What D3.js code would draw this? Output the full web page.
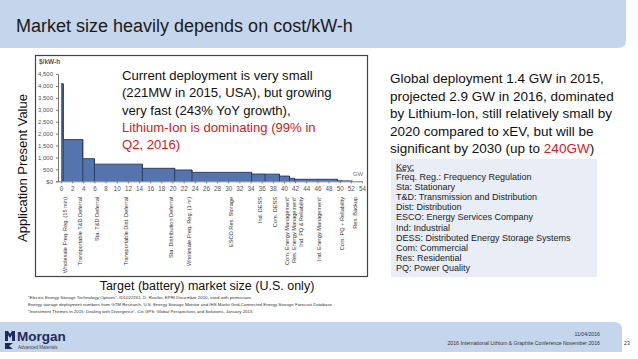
<!DOCTYPE html>
<html><head><meta charset="utf-8">
<script src="https://cdn.jsdelivr.net/npm/d3@7"></script>
<style>
html,body{margin:0;padding:0;background:#fff;}
svg{display:block;font-family:"Liberation Sans",Arial,Helvetica,sans-serif;}
</style></head>
<body>
<svg id="c" width="638" height="359"></svg>
<script>
// ---- data ----
const segEnds = [0.4, 3.9, 6.0, 14.6, 20.4, 23.5, 34.2, 36.6, 39.2, 41.0, 41.9, 49.6, 50.4];
const segValues = [4090, 1750, 950, 720, 545, 475, 375, 305, 300, 220, 125, 85, 25];
const yTicks = [0, 500, 1000, 1500, 2000, 2500, 3000, 3500, 4000, 4500];
const yTickLabels = ["$0", "500", "1,000", "1,500", "2,000", "2,500", "3,000", "3,500", "4,000", "4,500"];
const xTicks = d3.range(0, 55, 2);
const appNames = ["Wholesale Freq. Reg. (15 min)", "Transportable T&D Deferral", "Sta. T&D Deferral",
  "Transportable Dist. Deferral", "Sta. Distribution Deferral", "Wholesale Freq. Reg. (1 hr)",
  "ESCO Res. Storage", "Ind. DESS", "Com. DESS", "Com. Energy Management'", "Res. Energy Management'",
  "Ind. PQ & Reliability", "Ind. Energy Management'", "Com. PQ + Reliability", "Res. Backup"];
const appPositions = [0.7, 3.4, 6.5, 11.7, 19.7, 23.0, 30.5, 35.7, 38.4, 40.5, 41.8, 43.0, 46.2, 50.4, 52.7];
const leftText = ["Current deployment is very small", "(221MW in 2015, USA), but growing",
  "very fast (243% YoY growth),", "Lithium-Ion is dominating (99% in", "Q2, 2016)"];
const leftTextRed = [false, false, false, true, true];
const keyLines = ["Freq. Reg.: Frequency Regulation", "Sta: Stationary", "T&D: Transmission and Distribution",
  "Dist: Distribution", "ESCO: Energy Services Company", "Ind: Industrial",
  "DESS: Distributed Energy Storage Systems", "Com: Commercial", "Res: Residential", "PQ: Power Quality"];
const footnotes = ["\u201CElectric Energy Storage Technology Options\u201D, ID1022261, D. Rastler, EPRI December 2010, used with permission",
  "Energy storage deployment numbers from GTM Research, U.S. Energy Storage Monitor and IHS Markit Grid-Connected Energy Storage Forecast Database",
  "\u201CInvestment Themes in 2015: Dealing with Divergence\u201D, Citi GPS: Global Perspectives and Solutions, January 2015"];

const svg = d3.select("#c");
const band = "#c5d5eb";

// title band
svg.append("path").attr("d", "M0,0 H626 V40 Q626,48 618,48 H0 Z").attr("fill", band);
svg.append("text").attr("x", 16).attr("y", 32).attr("font-size", 18).attr("fill", "#1a1a1a")
  .text("Market size heavily depends on cost/kW-h");

// chart box
svg.append("rect").attr("x", 35.5).attr("y", 55.5).attr("width", 332).attr("height", 221)
  .attr("fill", "#fff").attr("stroke", "#444").attr("stroke-width", 1.2);

const x = d3.scaleLinear().domain([0, 54]).range([61, 362]);
const y = d3.scaleLinear().domain([0, 4500]).range([181.3, 74]);

// step area
const pts = [];
let prev = 0;
segEnds.forEach((e, i) => { pts.push([prev, segValues[i]]); pts.push([e, segValues[i]]); prev = e; });
pts.push([prev, 0]);
const area = d3.area().x(d => x(d[0])).y0(y(0)).y1(d => y(d[1]));
svg.append("path").datum(pts).attr("d", area).attr("fill", "#5574ad");
const line = d3.line().x(d => x(d[0])).y(d => y(d[1]));
svg.append("path").datum(pts).attr("d", line).attr("fill", "none").attr("stroke", "#26375e").attr("stroke-width", 0.9);
// dividers
svg.append("g").selectAll("line").data(segEnds.slice(0, -1)).join("line")
  .attr("x1", d => x(d)).attr("x2", d => x(d))
  .attr("y1", y(0)).attr("y2", (d, i) => y(segValues[i]))
  .attr("stroke", "#26375e").attr("stroke-width", 0.9);
// near-zero tail
svg.append("line").attr("x1", x(segEnds[segEnds.length - 1])).attr("x2", x(52.3))
  .attr("y1", y(0) - 0.5).attr("y2", y(0) - 0.5).attr("stroke", "#26375e").attr("stroke-width", 0.8);

// axes
const yAxis = d3.axisLeft(y).tickValues(yTicks).tickFormat((d, i) => yTickLabels[i]).tickSize(2).tickPadding(3);
const gy = svg.append("g").attr("transform", "translate(58,0)").call(yAxis);
gy.selectAll("text").attr("font-size", 6).attr("fill", "#555").attr("font-family", "Liberation Sans, Arial, sans-serif");
gy.selectAll("line, path").attr("stroke", "#777");

const xAxis = d3.axisBottom(x).tickValues(xTicks).tickSize(2).tickPadding(3);
const gx = svg.append("g").attr("transform", `translate(0,${y(0)})`).call(xAxis);
gx.selectAll("text").attr("font-size", 6.3).attr("fill", "#555").attr("font-family", "Liberation Sans, Arial, sans-serif");
gx.selectAll("line, path").attr("stroke", "#777");
gx.select(".domain").attr("d", `M58,0.5H${x(54)}`);

svg.append("text").attr("x", 39).attr("y", 64).attr("font-size", 6.5).attr("fill", "#555").attr("font-weight", "bold").text("$/kW-h");
svg.append("text").attr("x", 358).attr("y", 176).attr("font-size", 6).attr("fill", "#777").attr("text-anchor", "middle").text("GW");

// category labels
svg.append("g").selectAll("text").data(appNames).join("text")
  .attr("transform", (d, i) => `translate(${x(appPositions[i]) + 2},197) rotate(-90)`)
  .attr("text-anchor", "end").attr("font-size", 5.6).attr("fill", "#333").text(d => d);

// axis titles
svg.append("text").attr("transform", "translate(27,168) rotate(-90)").attr("text-anchor", "middle")
  .attr("font-size", 13).attr("fill", "#111").text("Application Present Value");
svg.append("text").attr("x", 207).attr("y", 290).attr("text-anchor", "middle")
  .attr("font-size", 12.5).attr("fill", "#111").text("Target (battery) market size (U.S. only)");

// left annotation
svg.append("g").selectAll("text").data(leftText).join("text")
  .attr("x", 122).attr("y", (d, i) => 80 + i * 17.3).attr("font-size", 13.1)
  .attr("fill", (d, i) => leftTextRed[i] ? "#d42020" : "#111").text(d => d);

// right annotation
const rt = svg.append("g").attr("font-size", 13.5).attr("fill", "#111");
const rLines = ["Global deployment 1.4 GW in 2015,", "projected 2.9 GW in 2016, dominated",
  "by Lithium-Ion, still relatively small by", "2020 compared to xEV, but will be"];
rLines.forEach((t, i) => rt.append("text").attr("x", 390).attr("y", 83 + i * 17.5).text(t));
const last = rt.append("text").attr("x", 390).attr("y", 83 + 4 * 17.5);
last.append("tspan").text("significant by 2030 (up to ");
last.append("tspan").attr("fill", "#d42020").text("240GW");
last.append("tspan").text(")");

// key box
svg.append("rect").attr("x", 391).attr("y", 159).attr("width", 206).attr("height", 118).attr("fill", "#e8edf6");
svg.append("text").attr("x", 396).attr("y", 169.5).attr("font-size", 9).attr("fill", "#222")
  .attr("text-decoration", "underline").text("Key:");
svg.append("g").selectAll("text").data(keyLines).join("text")
  .attr("x", 396).attr("y", (d, i) => 180 + i * 10.1).attr("font-size", 9).attr("fill", "#222").text(d => d);

// footnotes
svg.append("g").selectAll("text").data(footnotes).join("text")
  .attr("x", 28).attr("y", (d, i) => 299 + i * 6.8).attr("font-size", 4.4).attr("fill", "#333").text(d => d);

// footer band
svg.append("path").attr("d", "M0,322 H614 Q622,322 622,330 V352 H0 Z").attr("fill", band);
// logo
svg.append("path").attr("d", "M5,331 L5,341 L8,341 L8,335 L10,338 L12,335 L12,341 L15,341 L15,331 L12,331 L10,334 L8,331 Z").attr("fill", "#1f2b5c");
svg.append("path").attr("d", "M5,343 L13,343 L9,346 L13,349 L5,349 Z").attr("fill", "#1f2b5c");
svg.append("text").attr("x", 17).attr("y", 341).attr("font-size", 13.5).attr("font-weight", "bold").attr("fill", "#1f2b5c").text("Morgan");
svg.append("text").attr("x", 18).attr("y", 349).attr("font-size", 4.5).attr("fill", "#444").text("Advanced Materials");
svg.append("text").attr("x", 600).attr("y", 336).attr("text-anchor", "end").attr("font-size", 5.2).attr("fill", "#333").text("11/04/2016");
svg.append("text").attr("x", 600).attr("y", 345).attr("text-anchor", "end").attr("font-size", 5.2).attr("fill", "#333").text("2016 International Lithium & Graphite Conference November 2016");
svg.append("text").attr("x", 624).attr("y", 345).attr("font-size", 5.2).attr("fill", "#333").text("23");
</script>
</body></html>
